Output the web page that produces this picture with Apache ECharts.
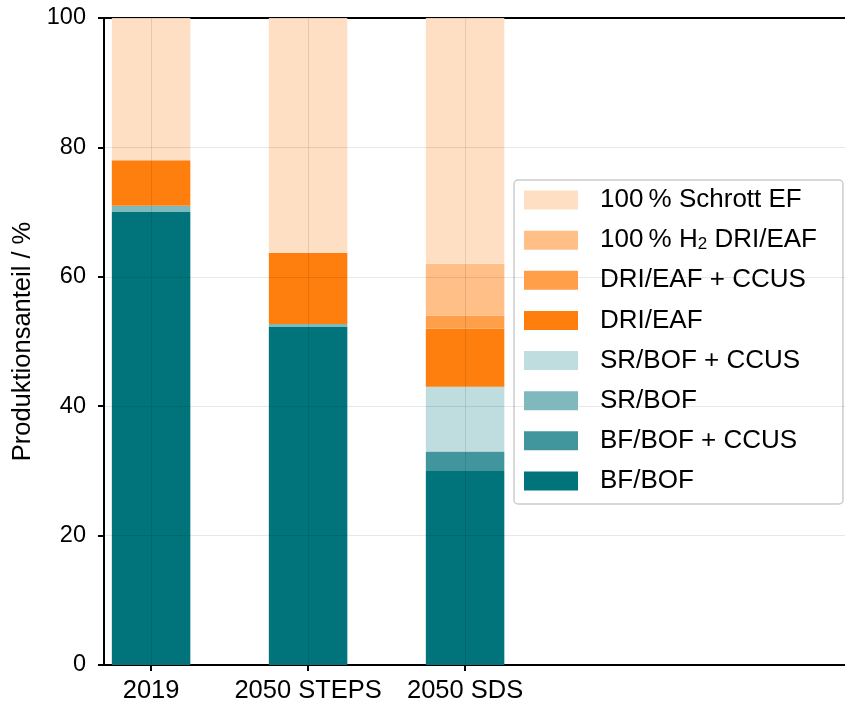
<!DOCTYPE html>
<html>
<head>
<meta charset="utf-8">
<script src="https://cdn.jsdelivr.net/npm/echarts@6/dist/echarts.min.js"></script>
<style>
  html, body { margin: 0; padding: 0; background: #fff; }
  #chart { width: 845px; height: 706px; }
</style>
</head>
<body>
<div id="chart"></div>
<script>
// Scenarios on the x axis
const categories = ['2019', '2050 STEPS', '2050 SDS'];

// Production share per route (%), bottom of the stack first
const bfBof        = [70, 52.3, 30];
const bfBofCcus    = [0, 0, 3];
const srBof        = [1, 0.4, 0];
const srBofCcus    = [0, 0, 10];
const driEaf       = [7, 11.0, 9];
const driEafCcus   = [0, 0, 2];
const h2DriEaf     = [0, 0, 8];
const scrapEf      = [22, 36.3, 38];

const yTicks = [0, 20, 40, 60, 80, 100];

const FONT = '"Liberation Sans", Arial, sans-serif';
const BAR_W = 0.5;           // bar width in x-axis units
const X_MIN = -0.3, X_MAX = 4.42;

const seriesDefs = [
  { name: 'BF/BOF',            data: bfBof,      color: 'rgb(0,115,123)' },
  { name: 'BF/BOF + CCUS',     data: bfBofCcus,  color: 'rgb(64,150,156)' },
  { name: 'SR/BOF',            data: srBof,      color: 'rgb(128,185,189)' },
  { name: 'SR/BOF + CCUS',     data: srBofCcus,  color: 'rgb(191,220,222)' },
  { name: 'DRI/EAF',           data: driEaf,     color: 'rgb(255,127,14)' },
  { name: 'DRI/EAF + CCUS',    data: driEafCcus, color: 'rgb(255,159,74)' },
  { name: '100 % H2 DRI/EAF',  data: h2DriEaf,   color: 'rgb(255,191,135)' },
  { name: '100 % Schrott EF',  data: scrapEf,    color: 'rgb(255,223,195)' }
];

// running base of each stack segment
const base = categories.map(() => 0);

function renderSegment(params, api) {
  const x = api.value(0), lo = api.value(1), hi = api.value(2);
  if (hi - lo <= 0) return null;
  const p0 = api.coord([x - BAR_W / 2, hi]);
  const p1 = api.coord([x + BAR_W / 2, lo]);
  return {
    type: 'rect',
    shape: { x: p0[0], y: p0[1], width: p1[0] - p0[0], height: p1[1] - p0[1] },
    style: { fill: api.visual('color') }
  };
}

const series = seriesDefs.map(s => {
  const data = s.data.map((v, i) => {
    const item = [i, base[i], base[i] + v];
    base[i] += v;
    return item;
  });
  return {
    name: s.name,
    type: 'custom',
    renderItem: renderSegment,
    itemStyle: { color: s.color },
    encode: { x: 0, y: [1, 2] },
    data: data,
    silent: true,
    z: 2
  };
});

// faint vertical grid lines at the scenario positions, drawn over the bars
series.push({
  type: 'line',
  data: [],
  silent: true,
  z: 5,
  markLine: {
    silent: true,
    symbol: 'none',
    label: { show: false },
    lineStyle: { color: 'rgba(0,0,0,0.1)', type: 'solid', width: 1 },
    data: categories.map((c, i) => ({ xAxis: i }))
  }
});

const legendOrder = seriesDefs.map(s => s.name).reverse();

const chart = echarts.init(document.getElementById('chart'), null, { renderer: 'canvas' });
chart.setOption({
  animation: false,
  backgroundColor: '#fff',
  textStyle: { fontFamily: FONT },
  grid: { left: 104, right: 0, top: 18, bottom: 41, containLabel: false },
  xAxis: [{
    type: 'value',
    min: X_MIN,
    max: X_MAX,
    axisLine: { show: true, onZero: false, lineStyle: { color: '#000', width: 2 } },
    axisTick: { show: true, customValues: categories.map((c, i) => i), length: 6, lineStyle: { color: '#000', width: 2 } },
    axisLabel: {
      show: true,
      customValues: categories.map((c, i) => i),
      formatter: v => categories[Math.round(v)] || '',
      color: '#000',
      fontSize: 25.5,
      fontFamily: FONT,
      margin: 13
    },
    splitLine: { show: false }
  }, {
    type: 'value',
    position: 'top',
    min: X_MIN,
    max: X_MAX,
    axisLine: { show: true, onZero: false, lineStyle: { color: '#000', width: 2 } },
    axisTick: { show: false },
    axisLabel: { show: false },
    splitLine: { show: false }
  }],
  yAxis: {
    type: 'value',
    min: 0,
    max: 100,
    interval: 20,
    z: 4,
    name: 'Produktionsanteil / %',
    nameLocation: 'middle',
    nameRotate: 90,
    nameGap: 62,
    nameTextStyle: { color: '#000', fontSize: 25.5, fontFamily: FONT },
    axisLine: { show: true, onZero: false, lineStyle: { color: '#000', width: 2 } },
    axisTick: { show: true, length: 6, lineStyle: { color: '#000', width: 2 } },
    axisLabel: {
      color: '#000', fontSize: 23.5, fontFamily: FONT, margin: 18,
      formatter: v => yTicks.includes(v) ? String(v) : ''
    },
    splitLine: { show: true, lineStyle: { color: 'rgba(0,0,0,0.09)', width: 1 } }
  },
  legend: {
    orient: 'vertical',
    left: 514,
    top: 180,
    data: legendOrder,
    itemWidth: 54,
    itemHeight: 19,
    itemGap: 14.14,
    padding: [7, 26, 10, 10],
    backgroundColor: 'rgba(255,255,255,0.85)',
    borderColor: '#cccccc',
    borderWidth: 1.5,
    borderRadius: 4,
    icon: 'rect',
    selectedMode: false,
    formatter: name => (name === '100 % H2 DRI/EAF' ? '100\u2009% H{sub|2} DRI/EAF' : name.replace('100 %', '100\u2009%')),
    textStyle: {
      color: '#000',
      fontSize: 26,
      lineHeight: 26,
      fontFamily: FONT,
      padding: [0, 0, 0, 17],
      rich: {
        sub: { fontSize: 17, lineHeight: 17, verticalAlign: 'bottom', fontFamily: FONT, color: '#000' }
      }
    }
  },
  series: series
});
</script>
</body>
</html>
